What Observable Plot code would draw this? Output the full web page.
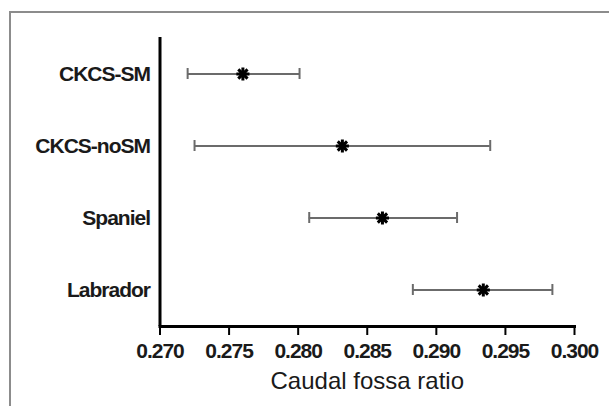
<!DOCTYPE html>
<html>
<head>
<meta charset="utf-8">
<script src="https://cdn.jsdelivr.net/npm/d3@7"></script>
<script src="https://cdn.jsdelivr.net/npm/@observablehq/plot@0.6"></script>
<style>
html, body { margin: 0; padding: 0; background: #fff; }
body { width: 609px; height: 406px; overflow: hidden; position: relative; }
#border { position: absolute; left: 9px; top: 11px; width: 640px; height: 440px;
  border-left: 2px solid #8c8c8c; border-top: 2px solid #8c8c8c; }
#chart { position: absolute; left: 0; top: 0; }
g[aria-label="y-axis tick label"] text, g[aria-label="x-axis tick label"] text { letter-spacing: -1px; }
</style>
</head>
<body>
<div id="border"></div>
<div id="chart"></div>
<script>
const groups = ["CKCS-SM", "CKCS-noSM", "Spaniel", "Labrador"];
const means  = [0.2760, 0.2832, 0.2861, 0.2934];
const lower  = [0.2720, 0.2725, 0.2808, 0.2883];
const upper  = [0.2801, 0.2939, 0.2915, 0.2984];
const xTicks = [0.270, 0.275, 0.280, 0.285, 0.290, 0.295, 0.300];
const xTitle = "Caudal fossa ratio";

const data = groups.map((g, i) => ({group: g, mean: means[i], lo: lower[i], hi: upper[i]}));
const barColor = "#6b6b6b";

const chart = Plot.plot({
  width: 609,
  height: 406,
  marginLeft: 159.5,
  marginRight: 35,
  marginTop: 37,
  marginBottom: 80,
  style: {fontFamily: "'Liberation Sans', Arial, sans-serif", background: "transparent", color: "#1a1a1a"},
  x: {domain: [0.270, 0.300]},
  y: {type: "band", domain: groups, paddingInner: 0.848, paddingOuter: 0.4237},
  marks: [
    Plot.axisY({tickSize: 0, tickPadding: 10, fontSize: 21, fontWeight: "bold", label: null}),
    Plot.axisX({ticks: xTicks, tickFormat: d3.format(".3f"), tickSize: 9, strokeWidth: 2, tickPadding: 8,
                fontSize: 21, fontWeight: "bold", label: null, stroke: "#000"}),
    Plot.ruleX([0.270], {stroke: "#000", strokeWidth: 3}),
    Plot.frame({anchor: "bottom", stroke: "#000", strokeWidth: 3}),
    Plot.ruleY(data, {y: "group", x1: "lo", x2: "hi", stroke: barColor, strokeWidth: 2}),
    Plot.tickX(data, {x: "lo", y: "group", stroke: barColor, strokeWidth: 2}),
    Plot.tickX(data, {x: "hi", y: "group", stroke: barColor, strokeWidth: 2}),
    Plot.dot(data, {x: "mean", y: "group", symbol: "plus", r: 4.3, stroke: "#000", strokeWidth: 3}),
    Plot.dot(data, {x: "mean", y: "group", symbol: "times", r: 4.3, stroke: "#000", strokeWidth: 3}),
    Plot.dot(data, {x: "mean", y: "group", r: 3.5, fill: "#000"}),
    Plot.text([xTitle], {frameAnchor: "bottom", dy: 62, fontSize: 24, fill: "#1a1a1a"})
  ]
});
document.getElementById("chart").appendChild(chart);
</script>
</body>
</html>
